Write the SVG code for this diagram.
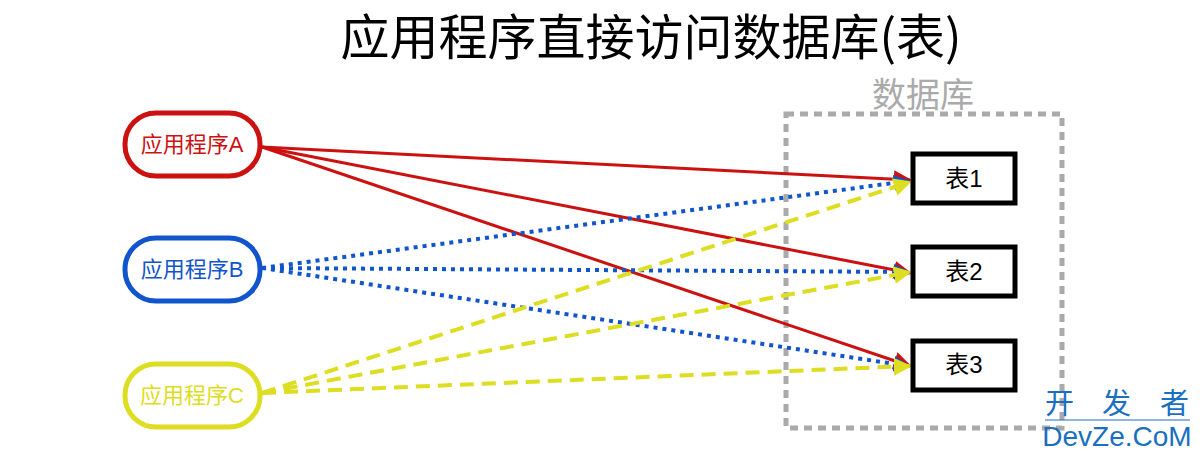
<svg xmlns="http://www.w3.org/2000/svg" width="1200" height="455" viewBox="0 0 1200 455">
<style>
.app{fill:#fff;stroke-width:5}
.apptxt{font-family:"Liberation Sans","Noto Sans CJK SC",sans-serif;font-size:22px;text-anchor:middle}
.tbl{fill:#fff;stroke:#000;stroke-width:5}
.tbltxt{font-family:"Liberation Sans","Noto Sans CJK SC",sans-serif;font-size:24px;text-anchor:middle;fill:#000}
.ra{stroke:#cc1111;stroke-width:3;fill:none}
.rb{stroke:#1155cc;stroke-width:4;fill:none;stroke-dasharray:4 5}
.rc{stroke:#dddd22;stroke-width:4;fill:none;stroke-dasharray:14 8}
.wm{font-family:"Noto Sans CJK SC",sans-serif;font-size:29px;fill:#1a6fc0}
</style>
<defs>
<marker id="mr" viewBox="0 0 10 10" refX="9" refY="5" markerWidth="6" markerHeight="6" orient="auto" markerUnits="strokeWidth"><path d="M0,0L10,5L0,10z" fill="#cc1111"/></marker>
<marker id="mb" viewBox="0 0 10 10" refX="9" refY="5" markerWidth="4" markerHeight="4" orient="auto" markerUnits="strokeWidth"><path d="M0,0L10,5L0,10z" fill="#1155cc"/></marker>
<marker id="my" viewBox="0 0 10 10" refX="9" refY="5" markerWidth="4.5" markerHeight="4.5" orient="auto" markerUnits="strokeWidth"><path d="M0,0L10,5L0,10z" fill="#dddd22"/></marker>
</defs>
<rect width="1200" height="455" fill="#fff"/>
<text x="651" y="55" font-family="'Noto Sans CJK SC',sans-serif" font-size="49" text-anchor="middle" fill="#000">应用程序直接访问数据库(表)</text>
<g id="database">
<rect x="786" y="114" width="276" height="314" fill="none" stroke="#aaaaaa" stroke-width="5" stroke-dasharray="8 6"/>
<text x="923" y="107" font-family="'Noto Sans CJK SC',sans-serif" font-size="34" text-anchor="middle" fill="#aaaaaa">数据库</text>
</g>
<g id="connectors">
<line class="ra" x1="262" y1="147" x2="910" y2="180" marker-end="url(#mr)"/>
<line class="ra" x1="262" y1="147" x2="910" y2="273" marker-end="url(#mr)"/>
<line class="ra" x1="262" y1="147" x2="910" y2="366" marker-end="url(#mr)"/>
<line class="rb" x1="262" y1="268" x2="908" y2="181" marker-end="url(#mb)"/>
<line class="rb" x1="262" y1="268" x2="908" y2="272" marker-end="url(#mb)"/>
<line class="rb" x1="262" y1="268" x2="908" y2="366" marker-end="url(#mb)"/>
<line class="rc" x1="262" y1="393" x2="910" y2="182" marker-end="url(#my)"/>
<line class="rc" x1="262" y1="393" x2="910" y2="272" marker-end="url(#my)"/>
<line class="rc" x1="262" y1="393" x2="910" y2="366" marker-end="url(#my)"/>
</g>
<g id="appA">
<rect class="app" x="125" y="113" width="135" height="63" rx="31" stroke="#cc1111"/>
<text class="apptxt" x="192" y="152" fill="#cc1111">应用程序A</text>
</g>
<g id="appB">
<rect class="app" x="125" y="238" width="135" height="63" rx="31" stroke="#1155cc"/>
<text class="apptxt" x="192" y="277" fill="#1155cc">应用程序B</text>
</g>
<g id="appC">
<rect class="app" x="125" y="364" width="135" height="63" rx="31" stroke="#dddd22"/>
<text class="apptxt" x="192" y="403" fill="#dddd22">应用程序C</text>
</g>
<g id="t1">
<rect class="tbl" x="913" y="154" width="102" height="49"/>
<text class="tbltxt" x="964" y="187">表1</text>
</g>
<g id="t2">
<rect class="tbl" x="913" y="247" width="102" height="49"/>
<text class="tbltxt" x="964" y="280">表2</text>
</g>
<g id="t3">
<rect class="tbl" x="913" y="341" width="102" height="49"/>
<text class="tbltxt" x="964" y="373">表3</text>
</g>
<g id="watermark">
<text class="wm" x="1045" y="414">开</text>
<text class="wm" x="1102" y="414">发</text>
<text class="wm" x="1160" y="414">者</text>
<line x1="1045" y1="420" x2="1190" y2="420" stroke="#1a6fc0" stroke-width="1"/>
<text x="1117" y="446" font-family="'Liberation Sans',sans-serif" font-size="28" text-anchor="middle" fill="#1a6fc0">DevZe.CoM</text>
</g>
</svg>
